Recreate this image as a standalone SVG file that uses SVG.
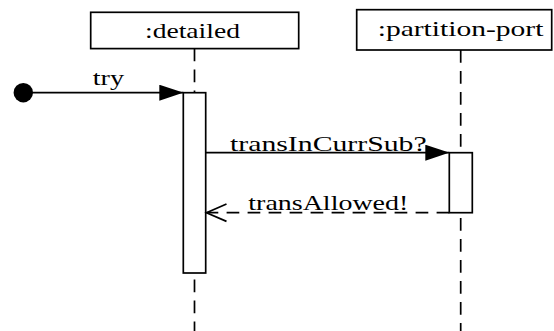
<svg xmlns="http://www.w3.org/2000/svg" width="554" height="331" viewBox="0 0 554 331">
<style>
.box{fill:#fff;stroke:#000;stroke-width:1.7}
.life{stroke:#000;stroke-width:1.7;stroke-dasharray:12.7 8.3;fill:none}
.act{fill:#fff;stroke:#000;stroke-width:1.7}
.msg{stroke:#000;stroke-width:1.7;fill:none}
.ret{stroke:#000;stroke-width:1.7;fill:none;stroke-dasharray:12.7 8.3}
text{font-family:"Liberation Serif","DejaVu Serif",serif;font-size:22px;fill:#000}
</style>
<defs>
<marker id="filled" markerUnits="userSpaceOnUse" viewBox="0 0 24 16" refX="24" refY="8" markerWidth="24" markerHeight="16" orient="auto">
<path d="M0,0 L24,8 L0,16 z" fill="#000"/>
</marker>
<marker id="open" markerUnits="userSpaceOnUse" viewBox="-2 -2 24 22" refX="20" refY="8.7" markerWidth="24" markerHeight="22" orient="auto" overflow="visible">
<path d="M0,0 L20,8.7 L0,17.4" fill="none" stroke="#000" stroke-width="1.7"/>
</marker>
</defs>
<g id="lifelines">
<line class="life" x1="194.5" y1="48.5" x2="194.5" y2="331"/>
<line class="life" x1="460.7" y1="50" x2="460.7" y2="331"/>
</g>
<g id="detailed">
<rect class="box" x="90.7" y="12.3" width="208" height="36.3"/>
<text x="145" y="38.3" textLength="95" lengthAdjust="spacingAndGlyphs">:detailed</text>
<rect class="act" x="183.3" y="92.7" width="22.4" height="180.3"/>
</g>
<g id="partition-port">
<rect class="box" x="356.7" y="9.7" width="195" height="40.3"/>
<text x="377.7" y="36.3" textLength="165.7" lengthAdjust="spacingAndGlyphs">:partition-port</text>
<rect class="act" x="449.3" y="152.7" width="23" height="60"/>
</g>
<g id="start">
<circle cx="23.3" cy="92.7" r="9.7" fill="#000"/>
</g>
<g id="connectors">
<line class="msg" x1="23.3" y1="92.7" x2="183.3" y2="92.7" marker-end="url(#filled)"/>
<text x="92.7" y="85" textLength="31.3" lengthAdjust="spacingAndGlyphs">try</text>
<line class="msg" x1="205.7" y1="152.7" x2="449.3" y2="152.7" marker-end="url(#filled)"/>
<text x="230" y="150.5" textLength="196.7" lengthAdjust="spacingAndGlyphs">transInCurrSub?</text>
<line class="ret" x1="449.3" y1="212.7" x2="206.5" y2="212.7" marker-end="url(#open)"/>
<text x="248.3" y="210" textLength="160" lengthAdjust="spacingAndGlyphs">transAllowed!</text>
</g>
</svg>
